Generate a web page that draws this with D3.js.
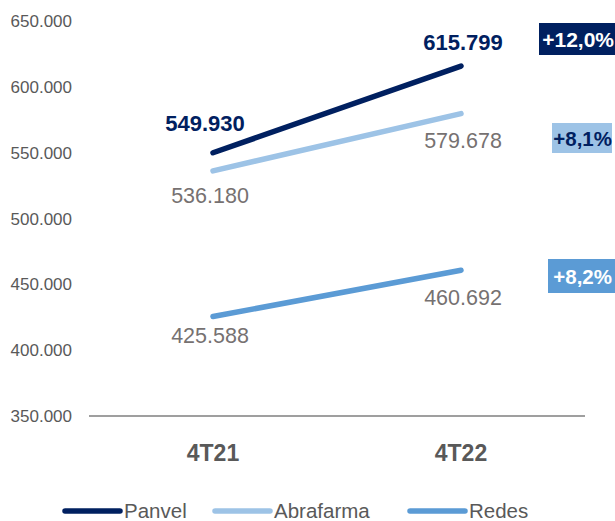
<!DOCTYPE html>
<html>
<head>
<meta charset="utf-8">
<script src="https://cdn.jsdelivr.net/npm/d3@7"></script>
<style>
  body { margin: 0; background: #fff; }
  text { font-family: "Liberation Sans", Arial, sans-serif; }
</style>
</head>
<body>
<script>
// dados
var periods = ["4T21", "4T22"];
var panvel = [549930, 615799];
var abrafarma = [536180, 579678];
var redes = [425588, 460692];
var seriesNames = ["Panvel", "Abrafarma", "Redes"];
var growth = ["+12,0%", "+8,1%", "+8,2%"];
var yTicks = [350000, 400000, 450000, 500000, 550000, 600000, 650000];

var width = 615, height = 521;
var svg = d3.select("body").append("svg").attr("width", width).attr("height", height);

var colors = ["#002060", "#9DC3E6", "#5B9BD5"];
var allSeries = [panvel, abrafarma, redes];

var loc = d3.formatLocale({ decimal: ",", thousands: ".", grouping: [3], currency: ["R$", ""] });
var fmt = loc.format(",d");
var fmtTick = function(v) { return loc.format(",d")(v / 1000) + ".000"; };

var x = d3.scaleBand().domain(periods).range([89, 585]).padding(0);
var cx = function(p) { return x(p) + x.bandwidth() / 2; };
var y = d3.scaleLinear().domain([350000, 650000]).range([416, 21]);

// eixo y (só textos)
svg.append("g").selectAll("text").data(yTicks).enter().append("text")
  .attr("x", 72).attr("y", function(d) { return y(d) + 6; })
  .attr("text-anchor", "end").attr("font-size", 17).attr("fill", "#595959")
  .text(fmtTick);

// linha base
svg.append("line").attr("x1", 89).attr("x2", 585).attr("y1", y(350000)).attr("y2", y(350000))
  .attr("stroke", "#7f7f7f").attr("stroke-width", 1.3);

// categorias
svg.append("g").selectAll("text").data(periods).enter().append("text")
  .attr("x", cx).attr("y", 461).attr("text-anchor", "middle")
  .attr("font-size", 23).attr("font-weight", "bold").attr("fill", "#595959")
  .text(function(d) { return d; });

// linhas
var line = d3.line().x(function(d, i) { return cx(periods[i]); }).y(function(d) { return y(d); });
allSeries.forEach(function(s, i) {
  svg.append("path").attr("d", line(s)).attr("fill", "none")
    .attr("stroke", colors[i]).attr("stroke-width", 5.5).attr("stroke-linecap", "round");
});

// rótulos de dados (deslocamento dy em relação ao ponto)
var labelDy = [[-22, -16], [32, 34], [27, 35]];
var labelDx = [-8, 2];
allSeries.forEach(function(s, i) {
  s.forEach(function(v, j) {
    svg.append("text")
      .attr("x", cx(periods[j]) + (i == 0 ? labelDx[j] : (j == 0 ? -3 : 2)))
      .attr("y", y(v) + labelDy[i][j])
      .attr("text-anchor", "middle")
      .attr("font-size", i == 0 ? 22 : 21.5)
      .attr("font-weight", i == 0 ? "bold" : "normal")
      .attr("fill", i == 0 ? "#002060" : "#767171")
      .text(fmt(v));
  });
});

// selos de crescimento
var badgeBox = [[539, 23, 80, 32], [552, 123, 60, 30], [548, 259, 70, 34]];
var badgeText = ["#ffffff", "#002060", "#ffffff"];
var badgeSize = [21, 20.5, 20.5];
growth.forEach(function(g, i) {
  var b = badgeBox[i];
  svg.append("rect").attr("x", b[0]).attr("y", b[1]).attr("width", b[2]).attr("height", b[3])
    .attr("fill", colors[i]);
  svg.append("text").attr("x", i == 0 ? 614 : 612).attr("y", b[1] + b[3] / 2 + 7.5)
    .attr("text-anchor", "end").attr("font-size", badgeSize[i]).attr("font-weight", "bold")
    .attr("fill", badgeText[i]).text(g);
});

// legenda
var legX = [65, 215, 410];
seriesNames.forEach(function(n, i) {
  svg.append("line").attr("x1", legX[i]).attr("x2", legX[i] + 55).attr("y1", 511).attr("y2", 511)
    .attr("stroke", colors[i]).attr("stroke-width", 5.5).attr("stroke-linecap", "round");
  svg.append("text").attr("x", legX[i] + 59).attr("y", 518).attr("font-size", 20.5)
    .attr("fill", "#595959").text(n);
});
</script>
</body>
</html>
